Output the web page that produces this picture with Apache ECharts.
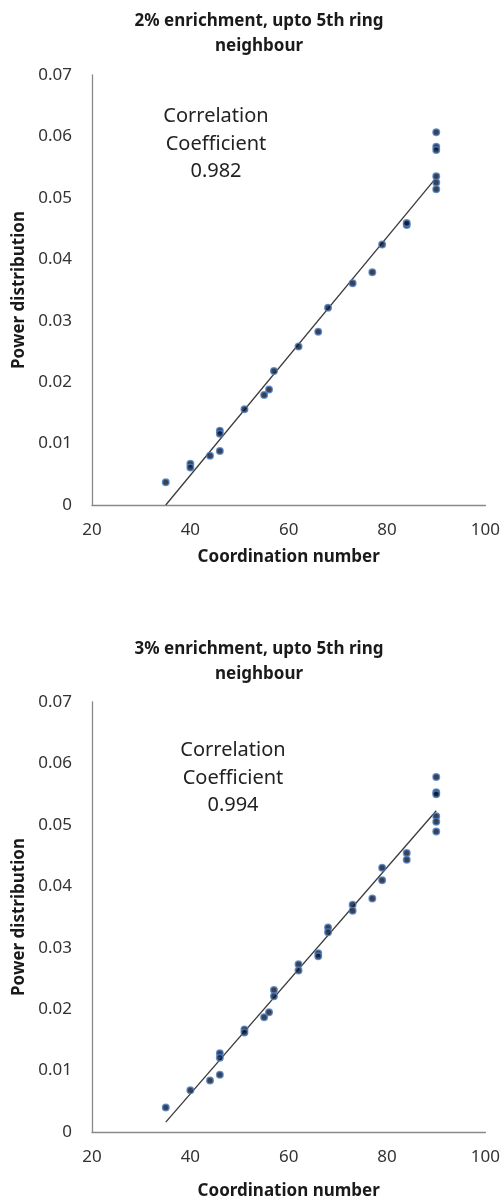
<!DOCTYPE html>
<html>
<head>
<meta charset="utf-8">
<script src="https://cdn.jsdelivr.net/npm/echarts@6/dist/echarts.min.js"></script>
<style>
  html, body { margin: 0; padding: 0; background: #fff; }
  #chart { width: 503px; height: 1201px; }
</style>
</head>
<body>
<div id="chart"></div>
<script>
// 2% enrichment: [coordination number, power distribution]
const points2pct = [
  [35, 0.0037], [40, 0.0067], [40, 0.0061], [44, 0.0080],
  [46, 0.0121], [46, 0.0116], [46, 0.0088], [51, 0.0156],
  [55, 0.0179], [56, 0.0188], [57, 0.0218], [62, 0.0258],
  [66, 0.0282], [68, 0.0321], [73, 0.0361], [77, 0.0379],
  [79, 0.0424], [84, 0.0456], [84, 0.0459], [90, 0.0607],
  [90, 0.0583], [90, 0.0578], [90, 0.0535], [90, 0.0525], [90, 0.0514]
]
// 3% enrichment
const points3pct = [
  [35, 0.0040], [40, 0.0068], [44, 0.0084], [46, 0.0093],
  [46, 0.0128], [46, 0.0121], [51, 0.0167], [51, 0.0162],
  [55, 0.0187], [56, 0.0195], [57, 0.0231], [57, 0.0221],
  [62, 0.0273], [62, 0.0263], [66, 0.0291], [66, 0.0286],
  [68, 0.0333], [68, 0.0325], [73, 0.0370], [73, 0.0360],
  [77, 0.0380], [79, 0.0430], [79, 0.0410], [84, 0.0454], [84, 0.0443],
  [90, 0.0578], [90, 0.0553], [90, 0.0550], [90, 0.0514], [90, 0.0505], [90, 0.0489]
]
// linear trendline end points
const trend2pct = [[35, 0.0], [90, 0.0533]]
const trend3pct = [[35, 0.0016], [90, 0.0523]]

const titles = ['2% enrichment, upto 5th ring\nneighbour', '3% enrichment, upto 5th ring\nneighbour']
const coefficients = ['0.982', '0.994']
const xTicks = { min: 20, max: 100, interval: 20 }
const yTicks = { min: 0, max: 0.07, interval: 0.01 }

const font = 'Noto Sans'
const axisGray = '#898989'

function xAxisOf(gridIndex, gap) {
  return {
    gridIndex,
    type: 'value',
    min: xTicks.min, max: xTicks.max, interval: xTicks.interval,
    name: 'Coordination number',
    nameLocation: 'middle',
    nameGap: gap,
    nameTextStyle: { fontFamily: font, fontWeight: 'bold', fontSize: 17, color: '#1a1a1a' },
    axisLine: { lineStyle: { color: axisGray, width: 1.3 } },
    axisTick: { show: false },
    splitLine: { show: false },
    axisLabel: { fontFamily: font, fontSize: 17, color: '#333', margin: 17 },
  }
}

function yAxisOf(gridIndex) {
  return {
    gridIndex,
    type: 'value',
    min: yTicks.min, max: yTicks.max, interval: yTicks.interval,
    name: 'Power distribution',
    nameLocation: 'middle',
    nameGap: 63,
    nameRotate: 90,
    nameTextStyle: { fontFamily: font, fontWeight: 'bold', fontSize: 17, color: '#1a1a1a' },
    axisLine: { show: true, lineStyle: { color: axisGray, width: 1.3 } },
    axisTick: { show: false },
    splitLine: { show: false },
    axisLabel: {
      fontFamily: font, fontSize: 17, color: '#333', margin: 20,
      formatter: v => (v === 0 ? '0' : v.toFixed(2)),
    },
  }
}

function dots(idx, data) {
  return {
    type: 'scatter',
    xAxisIndex: idx, yAxisIndex: idx,
    data,
    symbol: 'circle',
    symbolSize: 6.5,
    itemStyle: { color: '#0a1228', borderColor: '#4a7fc4', borderWidth: 1.5 },
    z: 3,
  }
}

function trend(idx, data) {
  return {
    type: 'line',
    xAxisIndex: idx, yAxisIndex: idx,
    data,
    showSymbol: false,
    lineStyle: { color: '#3a3a3a', width: 1.3 },
    z: 2,
  }
}

function note(x, y, text) {
  return {
    type: 'text',
    x, y,
    style: {
      text,
      fontFamily: font, fontSize: 20, lineHeight: 27.5,
      fill: '#222', align: 'center', verticalAlign: 'top',
    },
  }
}

const chart = echarts.init(document.getElementById('chart'))
chart.setOption({
  backgroundColor: '#fff',
  animation: false,
  title: [
    { text: titles[0], left: 254, top: 4, textAlign: 'center',
      textStyle: { fontFamily: font, fontWeight: 'bold', fontSize: 17, lineHeight: 25, color: '#1a1a1a' } },
    { text: titles[1], left: 254, top: 632, textAlign: 'center',
      textStyle: { fontFamily: font, fontWeight: 'bold', fontSize: 17, lineHeight: 25, color: '#1a1a1a' } },
  ],
  grid: [
    { left: 92, top: 75, width: 394, height: 430 },
    { left: 92, top: 702, width: 394, height: 430 },
  ],
  xAxis: [xAxisOf(0, 44), xAxisOf(1, 51)],
  yAxis: [yAxisOf(0), yAxisOf(1)],
  graphic: [
    note(216, 103, 'Correlation\nCoefficient\n' + coefficients[0]),
    note(233, 737, 'Correlation\nCoefficient\n' + coefficients[1]),
  ],
  series: [
    trend(0, trend2pct),
    dots(0, points2pct),
    trend(1, trend3pct),
    dots(1, points3pct),
  ],
})
</script>
</body>
</html>
